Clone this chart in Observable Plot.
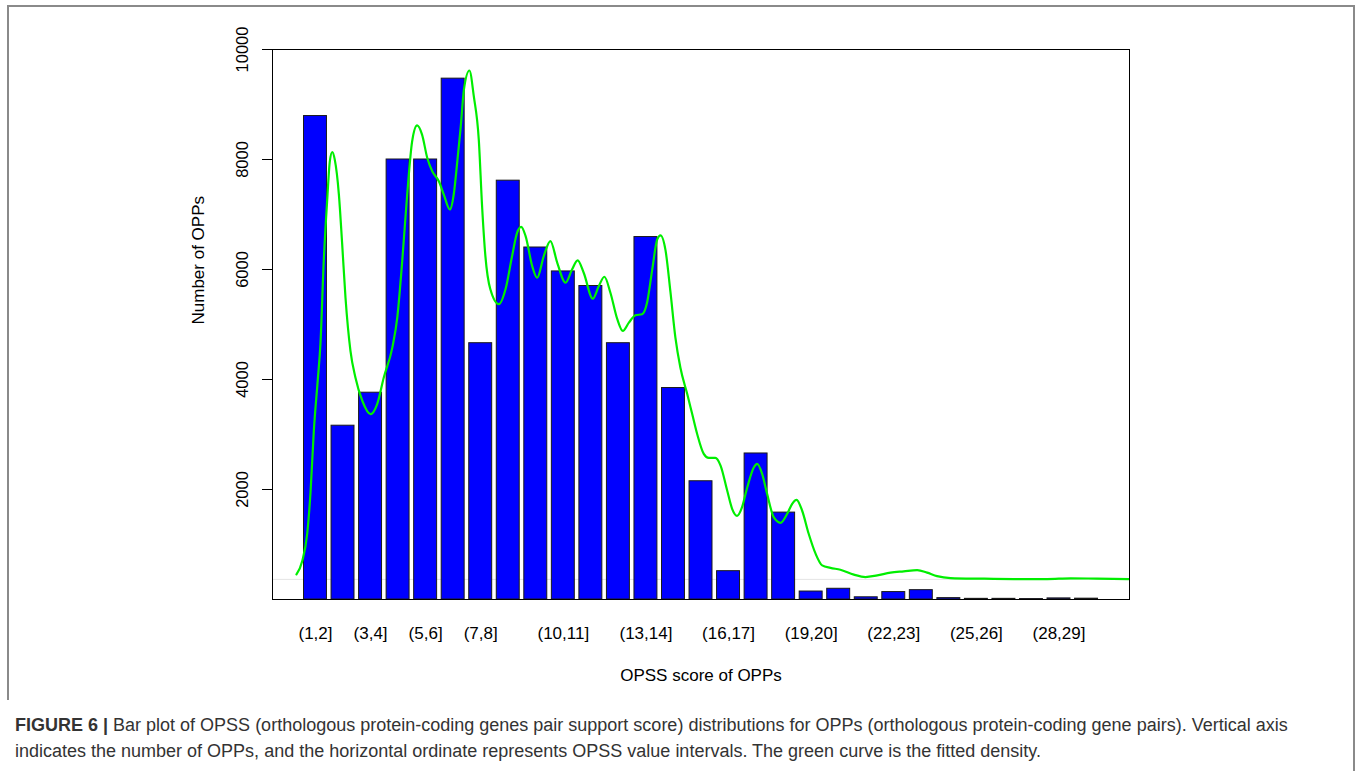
<!DOCTYPE html>
<html>
<head>
<meta charset="utf-8">
<script src="https://cdn.jsdelivr.net/npm/d3@7"></script>
<script src="https://cdn.jsdelivr.net/npm/@observablehq/plot@0.6"></script>
<style>
  html, body { margin: 0; padding: 0; background: #fff; }
  body { width: 1360px; height: 771px; position: relative; overflow: hidden; font-family: "Liberation Sans", Arimo, Arial, sans-serif; }
  #chart { position: absolute; left: 0; top: 0; }
  #caption { position: absolute; left: 15px; top: 712px; font-size: 18px; line-height: 26px; color: #333; white-space: nowrap; }
  .bd { position: absolute; background: #8a8a8a; }
</style>
</head>
<body>
<div class="bd" style="left:7px;top:5px;width:1348px;height:2px"></div>
<div class="bd" style="left:7px;top:5px;width:2px;height:695px"></div>
<div class="bd" style="left:1353px;top:5px;width:2px;height:770px"></div>
<div id="chart"></div>
<div id="caption"><b>FIGURE 6 |</b> Bar plot of OPSS (orthologous protein-coding genes pair support score) distributions for OPPs (orthologous protein-coding gene pairs). Vertical axis<br>indicates the number of OPPs, and the horizontal ordinate represents OPSS value intervals. The green curve is the fitted density.</div>
<script>
// ---- data ----
const intervals = ["(1,2]","(2,3]","(3,4]","(4,5]","(5,6]","(6,7]","(7,8]","(8,9]","(9,10]","(10,11]",
  "(11,12]","(12,13]","(13,14]","(14,15]","(15,16]","(16,17]","(17,18]","(18,19]","(19,20]","(20,21]",
  "(21,22]","(22,23]","(23,24]","(24,25]","(25,26]","(26,27]","(27,28]","(28,29]","(29,30]"];
const counts = [8790, 3160, 3760, 8000, 8000, 9470, 4660, 7615, 6400, 5965,
  5700, 4660, 6590, 3845, 2150, 515, 2655, 1580, 145, 195,
  40, 135, 170, 25, 12, 12, 8, 20, 15];
const shownLabels = ["(1,2]","(3,4]","(5,6]","(7,8]","(10,11]","(13,14]","(16,17]","(19,20]","(22,23]","(25,26]","(28,29]"];
const yTicks = [2000, 4000, 6000, 8000, 10000];
// fitted density curve (x in score units, y in OPP counts)
const densityX = [0.81,1.02,1.20,1.32,1.44,1.58,1.68,1.80,1.93,2.02,2.11,2.20,2.35,2.47,2.59,2.77,2.95,3.20,3.50,3.74,
  3.98,4.29,4.47,4.65,4.83,5.01,5.19,5.37,5.56,5.74,5.98,6.16,6.38,6.52,6.65,6.77,6.89,7.09,7.25,7.43,
  7.55,7.67,7.85,8.16,8.40,8.64,8.82,8.97,9.13,9.37,9.55,9.79,10.03,10.28,10.58,10.82,11.02,11.24,11.57,11.79,
  11.99,12.21,12.46,12.66,12.88,13.12,13.36,13.54,13.73,13.91,14.03,14.21,14.39,14.57,14.75,15.00,15.18,15.36,15.60,15.78,
  16.02,16.21,16.45,16.63,16.81,16.99,17.18,17.42,17.54,17.72,17.90,18.14,18.39,18.63,18.81,18.97,19.17,19.41,19.66,19.90,
  20.20,20.56,21.05,21.47,21.90,22.38,22.86,23.35,23.71,24.07,24.56,25.65,26.86,28.07,28.92,29.88,31.03];
const densityY = [457,700,1200,1950,3069,3976,4648,6153,7302,7967,8136,7998,7363,6456,5487,4521,4036,3614,3372,3554,
  4036,4580,5125,6153,7363,8330,8620,8452,8027,7786,7604,7363,7091,7363,7967,8571,9268,9618,9146,8361,
  7151,6244,5640,5368,5640,6244,6667,6775,6607,6062,5850,6244,6516,6122,5759,6003,6166,5941,5469,5700,
  5868,5578,5096,4883,5034,5168,5186,5397,6003,6547,6621,6353,5591,4762,4218,3735,3372,3010,2647,2574,
  2574,2434,1981,1649,1522,1678,2041,2404,2465,2284,1921,1497,1395,1558,1740,1812,1618,1195,833,620,
  575,542,452,408,439,488,512,535,488,426,390,379,372,372,385,379,372];
const faintLine = [366];

// ---- derived tables ----
const bars = intervals.map((label, i) => {
  const [lo, hi] = label.slice(1, -1).split(",").map(Number);
  return {label, lo, hi, count: counts[i]};
});
const labelRows = shownLabels.map(label => {
  const [lo, hi] = label.slice(1, -1).split(",").map(Number);
  return {label, mid: (lo + hi) / 2};
});
const density = densityX.map((x, i) => ({x, y: densityY[i]}));

const gap = 0.0833; // R barplot space = 0.2
const font = "Liberation Sans, Arimo, Arial, sans-serif";

const chart = Plot.plot({
  width: 1360,
  height: 700,
  marginLeft: 272,
  marginRight: 231,
  marginTop: 49,
  marginBottom: 101,
  style: {fontFamily: font, background: "transparent", color: "#000", overflow: "visible"},
  x: {domain: [-0.061, 31.06], axis: null},
  y: {domain: [0, 10000], ticks: yTicks, tickSize: 10, tickFormat: () => "", label: null},
  marks: [
    Plot.ruleY(faintLine, {stroke: "#e4e4e4", strokeWidth: 1}),
    Plot.rectY(bars, {x1: d => d.lo + gap, x2: d => d.hi - gap, y1: 0, y2: "count", fill: "#0000ff", stroke: "#1a1a1a", strokeWidth: 1}),
    Plot.line(density, {x: "x", y: "y", stroke: "#00ee00", strokeWidth: 2.2, curve: "monotone-x"}),
    Plot.frame({stroke: "#000", strokeWidth: 1}),
    Plot.text(yTicks, {y: d => d, text: d => String(d), frameAnchor: "left", dx: -30, rotate: -90, fontSize: 16.5, textAnchor: "middle", lineAnchor: "middle", fill: "#000"}),
    Plot.text(labelRows, {x: "mid", text: "label", frameAnchor: "bottom", dy: 34, fontSize: 17, lineAnchor: "middle", fill: "#000"}),
    Plot.text(["OPSS score of OPPs"], {frameAnchor: "bottom", dy: 76, fontSize: 17, lineAnchor: "middle", fill: "#000"}),
    Plot.text(["Number of OPPs"], {frameAnchor: "left", dx: -74, rotate: -90, fontSize: 17, lineAnchor: "middle", fill: "#000"})
  ]
});
document.getElementById("chart").appendChild(chart);
</script>
</body>
</html>
